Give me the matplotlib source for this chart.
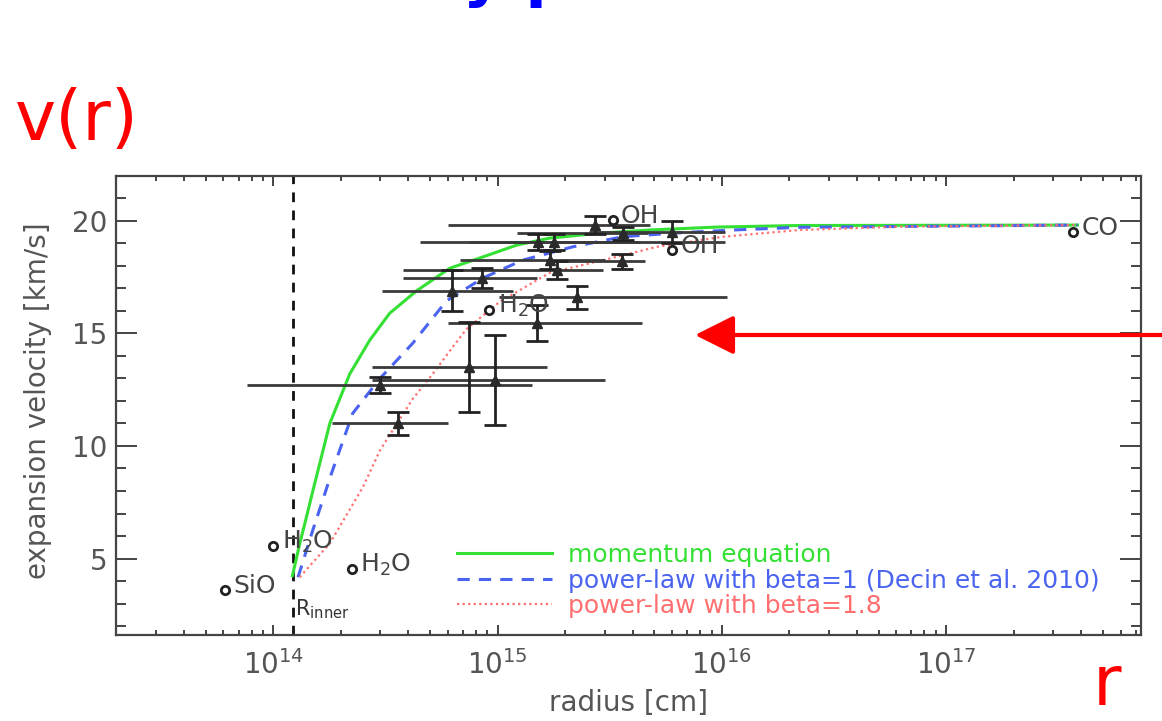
import numpy as np
import matplotlib
matplotlib.use("Agg")
import matplotlib.pyplot as plt

# ---------------- data ----------------
# triangles with error bars (radius in cm, velocity in km/s)
tri_r    = [3.59e14, 2.99e14, 7.5e14, 9.7e14, 1.5e15, 2.25e15, 6.25e14, 8.5e14,
            1.85e15, 1.71e15, 1.51e15, 1.78e15, 2.71e15, 3.58e15, 3.62e15, 5.98e15]
tri_rlo  = [1.82e14, 7.6e13, 2.75e14, 2.75e14, 6.0e14, 1.02e15, 3.05e14, 3.78e14,
            3.78e14, 6.78e14, 4.5e14, 7.5e14, 6.0e14, 1.89e15, 1.22e15, 2.57e15]
tri_rhi  = [6.0e14, 1.42e15, 1.66e15, 3.0e15, 4.4e15, 1.05e16, 1.17e15, 1.5e15,
            2.94e15, 3.0e15, 1.03e16, 4.3e15, 4.78e15, 4.53e15, 4.68e15, 1.03e16]
tri_v    = [11.0, 12.7, 13.5, 12.95, 15.45, 16.6, 16.9, 17.45,
            17.8, 18.25, 19.05, 19.05, 19.8, 18.2, 19.45, 19.5]
tri_verr = [0.5, 0.35, 2.0, 2.0, 0.8, 0.5, 0.9, 0.45,
            0.4, 0.4, 0.35, 0.35, 0.4, 0.35, 0.3, 0.5]

# labelled molecular points (open circles)
mol_r     = [6.08e13, 1.0e14, 2.24e14, 9.2e14, 3.26e15, 6.0e15, 3.7e17]
mol_v     = [3.6, 5.55, 4.55, 16.05, 20.05, 18.7, 19.5]
mol_names = ["SiO", "H$_2$O", "H$_2$O", "H$_2$O", "OH", "OH", "CO"]

# model curves
green_r = [1.218e14, 1.312e14, 1.406e14, 1.504e14, 1.787e14, 2.193e14, 2.692e14, 3.305e14,
           4.36e14, 6.12e14, 8.59e14, 1.218e15, 1.71e15, 2.86e15, 4.78e15, 9.49e15, 2.22e16, 3.86e17]
green_v = [4.24, 5.65, 6.84, 8.03, 11.0, 13.2, 14.7, 15.9,
           16.9, 17.9, 18.4, 18.93, 19.24, 19.46, 19.6, 19.73, 19.8, 19.82]

blue_r = [1.29e14, 1.50e14, 1.818e14, 2.26e14, 2.99e14, 4.19e14, 5.92e14, 8.59e14,
          1.294e15, 2.16e15, 3.61e15, 6.04e15, 1.12e16, 2.22e16, 3.86e17]
blue_v = [4.17, 6.25, 8.78, 11.45, 13.0, 14.57, 16.45, 17.46,
          18.26, 18.85, 19.3, 19.46, 19.6, 19.72, 19.82]

red_r = [1.312e14, 1.787e14, 2.51e14, 2.99e14, 3.41e14, 4.19e14, 5.14e14, 6.31e14, 7.28e14,
         1.02e15, 1.71e15, 3.07e15, 5.13e15, 1.01e16, 2.22e16, 6.21e16, 3.86e17]
red_v = [4.17, 5.67, 8.17, 9.8, 10.7, 12.1, 13.2, 14.4, 15.2,
         16.4, 17.7, 18.3, 18.85, 19.3, 19.6, 19.75, 19.82]

r_inner = 1.22e14
legend_labels = ["momentum equation",
                 "power-law with beta=1 (Decin et al. 2010)",
                 "power-law with beta=1.8"]
x_ticks = [1e14, 1e15, 1e16, 1e17]
x_ticklabels = ["$10^{14}$", "$10^{15}$", "$10^{16}$", "$10^{17}$"]
y_ticks = [5, 10, 15, 20]

# ---------------- figure ----------------
plt.rcParams['font.family'] = ['DejaVu Sans']
plt.rcParams['mathtext.default'] = 'regular'

W, H = 1162, 721
fig = plt.figure(figsize=(W / 100, H / 100), dpi=100)
ax = fig.add_axes([116 / W, (H - 635) / H, 1025 / W, 459 / H])

ax.set_xscale('log')
ax.set_xlim(1.99e13, 7.4e17)
ax.set_ylim(1.6, 22.0)

gray = '#555555'
fcol = '#444444'

# curves
g_col, b_col, r_col = '#33e033', '#4a64f0', '#ff6f6f'
l1, = ax.plot(green_r, green_v, color=g_col, lw=2.2, zorder=3)
l2, = ax.plot(blue_r, blue_v, color=b_col, lw=2.2, ls=(0, (4, 3)), zorder=3)
l3, = ax.plot(red_r, red_v, color=r_col, lw=1.6, ls=(0, (1, 1.5)), zorder=3)

# R_inner
ax.axvline(r_inner, color='#111111', lw=2, ls=(0, (3.5, 3)), zorder=2)
ax.text(r_inner * 1.02, 2.75, "R$_{inner}$", fontsize=15, color='#333333',
        ha='left', va='center')

# error bars
tri_r_a = np.array(tri_r)
xerr = [tri_r_a - np.array(tri_rlo), np.array(tri_rhi) - tri_r_a]
ax.errorbar(tri_r, tri_v, xerr=xerr, fmt='none', ecolor='#3a3a3a', elinewidth=2,
            capsize=0, zorder=4)
ax.errorbar(tri_r, tri_v, yerr=tri_verr, fmt='^', color='#2a2a2a', ms=7,
            ecolor='#222222', elinewidth=2, capsize=8, capthick=2, zorder=5)

# molecular points
ax.plot(mol_r, mol_v, 'o', ms=6, mfc='white', mec='#222222', mew=2, ls='none', zorder=6)
for r, v, name in zip(mol_r, mol_v, mol_names):
    ax.annotate(name, (r, v), xytext=(6, 3), textcoords='offset points',
                fontsize=18, color='#444444', ha='left', va='center', zorder=6)

# legend
leg = ax.legend([l1, l2, l3], legend_labels, loc='upper left',
                bbox_to_anchor=(0.333, 0.200), frameon=False, fontsize=18,
                handlelength=3.8, handletextpad=0.62, labelspacing=0.06,
                borderpad=0, borderaxespad=0)
for txt, c in zip(leg.get_texts(), [g_col, b_col, r_col]):
    txt.set_color(c)

# axes styling
for sp in ax.spines.values():
    sp.set_color(fcol)
    sp.set_linewidth(1.6)
ax.set_xticks(x_ticks)
ax.set_xticklabels(x_ticklabels)
ax.set_yticks(y_ticks)
ax.yaxis.set_minor_locator(matplotlib.ticker.MultipleLocator(1))
ax.xaxis.set_minor_locator(matplotlib.ticker.LogLocator(base=10, subs=np.arange(2, 10)))
ax.xaxis.set_minor_formatter(matplotlib.ticker.NullFormatter())
ax.tick_params(axis='both', which='both', direction='in', top=True, right=True,
               colors=fcol, labelcolor=gray, width=1.4)
ax.tick_params(axis='x', which='major', length=7, labelsize=20, pad=11)
ax.tick_params(axis='x', which='minor', length=3.5)
ax.tick_params(axis='y', which='major', length=15, labelsize=20, pad=6)
ax.tick_params(axis='y', which='minor', length=7.5)

ax.set_xlabel("radius [cm]", fontsize=20, color=gray)
ax.set_ylabel("expansion velocity [km/s]", fontsize=20, color=gray)
ax.xaxis.set_label_coords(0.5, -0.118)
ax.yaxis.set_label_coords(-0.062, 0.51)

# slide decorations
fig.text(15 / W, 1 - 140 / H, "v(r)", fontsize=50, color='#ff0000', ha='left', va='baseline')
fig.text(1093 / W, 1 - 705 / H, "r", fontsize=50, color='#ff0000', ha='left', va='baseline')
fig.text(223 / W, 1 + 4.7 / H, "Velocity profile", fontsize=45, fontweight='bold',
         color='#0000ff', ha='left', va='baseline')

ax.annotate('', xy=(695 / W, 1 - 335 / H), xytext=(1.0, 1 - 335 / H),
            xycoords='figure fraction', textcoords='figure fraction',
            arrowprops=dict(arrowstyle='-|>,head_length=1.2,head_width=0.6',
                            color='#ff0000', lw=3, mutation_scale=20,
                            shrinkA=0, shrinkB=0),
            annotation_clip=False)

fig.savefig("out.png", dpi=100)
